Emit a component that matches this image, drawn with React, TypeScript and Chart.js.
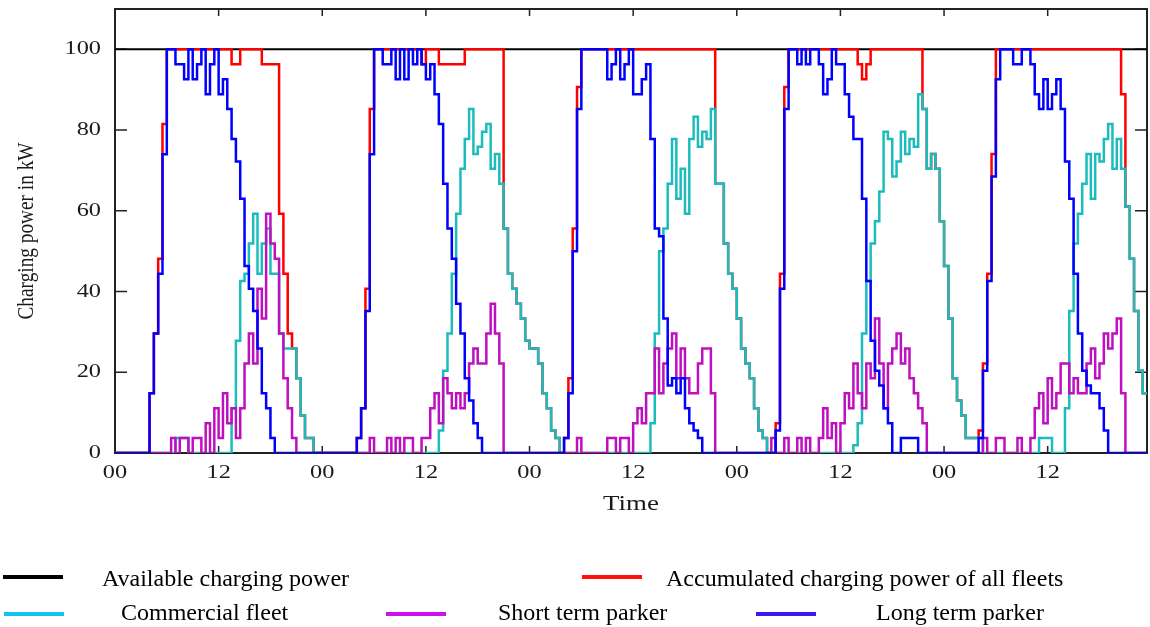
import React, { useEffect, useRef } from "react";
import { Chart, registerables } from "chart.js";

Chart.register(...registerables);

// ---- data (values every 30 minutes, t = 0 .. 119.5 h) ----
const STEP_HOURS = 0.5;
const X_MAX = 119.5;
const X_TICK_STEP = 12;
const X_TICK_LABELS = ["00", "12"];
const Y_MAX = 110;
const Y_TICK_STEP = 20;
const Y_LABEL_MAX = 100;

const AVAILABLE_TIMES = [0, 119.5];
const AVAILABLE_POWER = [100, 100];

const ACCUMULATED = [
  0,0,0,0,0,0,0,0,0,14.8,29.6,48.1, 81.5,100,100,100,100,100,100,100,100,100,100,100,
  100,100,100,100,96.3,96.3,100,100,100,100,100,96.3, 96.3,96.3,96.3,59.3,44.4,29.6,25.9,18.5,9.3,3.7,3.7,0,
  0,0,0,0,0,0,0,0,0,3.7,11.1,40.7, 85.2,100,100,100,100,100,100,100,100,100,100,100,
  96.3,100,100,100,96.3,96.3,96.3,96.3,96.3,96.3,100,100, 100,100,100,100,100,100,100,55.6,44.4,40.7,37,33.3,
  27.8,25.9,25.9,22.2,14.8,11.1,5.6,3.7,0,3.7,18.5,55.6, 90.7,100,100,100,100,100,100,100,100,100,100,100,
  100,100,100,100,100,100,100,100,100,100,100,100, 100,100,100,100,100,100,100,100,66.7,66.7,51.9,44.4,
  40.7,33.3,25.9,22.2,18.5,11.1,5.6,3.7,0,0,7.4,44.4, 90.7,100,100,100,100,100,100,100,100,100,100,100,
  100,100,100,100,100,96.3,92.6,96.3,100,100,100,100, 100,100,100,100,100,100,100,100,85.2,70.4,74.1,70.4,
  57.4,46.3,33.3,18.5,13,9.3,3.7,3.7,3.7,5.6,22.2,44.4, 74.1,100,100,100,100,100,100,100,100,100,100,100,
  100,100,100,100,100,100,100,100,100,100,100,100, 100,100,100,100,100,100,88.9,61.1,48.1,35.2,20.4,14.8,
];

const COMMERCIAL = [
  0,0,0,0,0,0,0,0,0,0,0,0, 0,0,0,3.7,3.7,3.7,0,0,0,0,0,0,
  0,0,0,0,11.1,27.8,42.6,44.4,51.9,59.3,44.4,51.9, 55.6,44.4,44.4,29.6,25.9,25.9,25.9,18.5,9.3,3.7,3.7,0,
  0,0,0,0,0,0,0,0,0,0,0,0, 0,0,0,0,0,0,0,0,0,0,0,0,
  0,0,0,0,5.6,20.4,29.6,44.4,59.3,70.4,77.8,85.2, 74.1,75.9,79.6,81.5,70.4,74.1,66.7,55.6,44.4,40.7,37,33.3,
  27.8,25.9,25.9,22.2,14.8,11.1,5.6,3.7,0,0,0,0, 0,0,0,0,0,0,0,0,0,0,0,0,
  0,0,0,0,0,7.4,29.6,50,55.6,66.7,77.8,63, 70.4,59.3,77.8,83.3,75.9,79.6,77.8,85.2,66.7,66.7,51.9,44.4,
  40.7,33.3,25.9,22.2,18.5,11.1,5.6,3.7,0,0,0,0, 0,0,0,0,0,0,0,0,0,0,0,0,
  0,0,0,0,1.9,7.4,29.6,42.6,51.9,57.4,64.8,79.6, 77.8,68.5,72.2,79.6,74.1,77.8,75.9,88.9,85.2,70.4,74.1,70.4,
  57.4,46.3,33.3,18.5,13,9.3,3.7,3.7,3.7,3.7,0,0, 0,0,0,0,0,0,0,0,0,0,0,3.7,
  3.7,3.7,0,0,0,11.1,35.2,51.9,59.3,66.7,74.1,63, 74.1,72.2,77.8,81.5,70.4,77.8,70.4,61.1,48.1,35.2,20.4,14.8,
];

const SHORT_TERM = [
  0,0,0,0,0,0,0,0,0,0,0,0, 0,0,3.7,0,3.7,3.7,0,3.7,3.7,0,7.4,0,
  11.1,3.7,14.8,7.4,11.1,3.7,11.1,22.2,29.6,22.2,40.7,33.3, 59.3,51.9,48.1,29.6,18.5,11.1,3.7,0,0,0,0,0,
  0,0,0,0,0,0,0,0,0,0,0,0, 3.7,0,0,0,3.7,0,3.7,0,3.7,3.7,0,0,
  3.7,3.7,11.1,14.8,7.4,18.5,14.8,11.1,14.8,11.1,14.8,22.2, 25.9,22.2,22.2,29.6,37,29.6,22.2,0,0,0,0,0,
  0,0,0,0,0,0,0,0,0,0,0,0, 3.7,0,0,0,0,0,0,3.7,3.7,0,3.7,3.7,
  0,7.4,11.1,7.4,14.8,14.8,25.9,14.8,22.2,25.9,29.6,18.5, 25.9,18.5,14.8,14.8,22.2,25.9,25.9,14.8,0,0,0,0,
  0,0,0,0,0,0,0,0,0,3.7,0,0, 3.7,0,0,3.7,0,3.7,0,0,3.7,11.1,3.7,7.4,
  0,7.4,14.8,11.1,22.2,14.8,11.1,22.2,18.5,33.3,22.2,11.1, 22.2,25.9,29.6,22.2,25.9,18.5,14.8,11.1,7.4,0,0,0,
  0,0,0,0,0,0,0,0,0,0,3.7,0, 0,3.7,3.7,0,0,0,3.7,0,0,3.7,11.1,14.8,
  7.4,18.5,11.1,14.8,22.2,22.2,14.8,18.5,14.8,14.8,22.2,25.9, 18.5,22.2,29.6,25.9,29.6,33.3,14.8,0,0,0,0,0,
];

const LONG_TERM = [
  0,0,0,0,0,0,0,0,0,14.8,29.6,44.4, 74,100,100,96.3,96.3,92.6,100,92.6,96.3,100,88.9,96.3,
  100,88.9,92.6,85.2,77.8,72.2,63,46.3,40.7,35.2,25.9,14.8, 11.1,3.7,0,0,0,0,0,0,0,0,0,0,
  0,0,0,0,0,0,0,0,0,3.7,11.1,35.2, 74,100,100,96.3,96.3,100,92.6,100,92.6,100,96.3,100,
  96.3,92.6,96.3,88.9,81.5,66.7,55.6,48.1,37,29.6,18.5,13, 7.4,3.7,0,0,0,0,0,0,0,0,0,0,
  0,0,0,0,0,0,0,0,0,3.7,14.8,50, 85.2,100,100,100,100,100,100,92.6,96.3,100,92.6,96.3,
  100,88.9,88.9,92.6,96.3,77.8,55.6,53.7,33.3,16.7,18.5,14.8, 18.5,11.1,7.4,5.6,3.7,0,0,0,0,0,0,0,
  0,0,0,0,0,0,0,0,0,0,5.6,40.7, 85.2,100,100,96.3,100,96.3,100,100,96.3,88.9,92.6,100,
  96.3,96.3,88.9,83.3,77.8,77.8,63,42.6,27.8,20.4,16.7,11.1, 7.4,0,0,3.7,3.7,3.7,3.7,0,0,0,0,0,
  0,0,0,0,0,0,0,0,0,3.7,20.4,42.6, 68.5,92.6,100,100,100,96.3,96.3,100,100,96.3,88.9,85.2,
  92.6,85.2,88.9,92.6,85.2,72.2,63,44.4,29.6,20.4,16.7,14.8, 14.8,11.1,5.6,0,0,0,0,0,0,0,0,0,
];

const TIMES = LONG_TERM.map((_, i) => i * STEP_HOURS);

const SERIES_NAMES = [
  "Available charging power",
  "Accumulated charging power of all fleets",
  "Commercial fleet",
  "Short term parker",
  "Long term parker",
];
const LINE_COLORS = ["#000000", "#FF0000", "#1CBCBC", "#BF10BF", "#0000FF"];
const LEGEND_COLORS = ["#000000", "#FF1010", "#10C4F0", "#CC10EE", "#3A1AEE"];

const Y_TITLE = "Charging power in kW";
const X_TITLE = "Time";

const W = 1150;
const H = 627;

function drawText(
  ctx: CanvasRenderingContext2D,
  text: string,
  x: number,
  y: number,
  size: number,
  sx: number,
  align: CanvasTextAlign,
  baseline: CanvasTextBaseline,
  rotate = false,
  color = "#1a1a1a"
) {
  ctx.save();
  ctx.translate(x, y);
  if (rotate) ctx.rotate(-Math.PI / 2);
  ctx.scale(sx, 1);
  ctx.font = `${size}px "Liberation Serif", "Times New Roman", serif`;
  ctx.fillStyle = color;
  ctx.textAlign = align;
  ctx.textBaseline = baseline;
  ctx.fillText(text, 0, 0);
  ctx.restore();
}

const framePlugin = {
  id: "frameAndText",
  beforeDatasetsDraw(chart: any) {
    const { ctx, chartArea: a } = chart;
    const xs = chart.scales.x;
    const ys = chart.scales.y;
    ctx.save();
    ctx.strokeStyle = "#222";
    ctx.lineWidth = 2;
    ctx.strokeRect(a.left, a.top, a.right - a.left, a.bottom - a.top);
    ctx.lineWidth = 1.5;
    ctx.beginPath();
    xs.ticks.forEach((t: any) => {
      const px = xs.getPixelForValue(t.value);
      if (px <= a.left + 1 || px >= a.right - 1) return;
      ctx.moveTo(px, a.bottom);
      ctx.lineTo(px, a.bottom - 7);
      ctx.moveTo(px, a.top);
      ctx.lineTo(px, a.top + 7);
    });
    ys.ticks.forEach((t: any) => {
      const py = ys.getPixelForValue(t.value);
      if (py >= a.bottom - 1) return;
      ctx.moveTo(a.left, py);
      ctx.lineTo(a.left + 12, py);
      ctx.moveTo(a.right, py);
      ctx.lineTo(a.right - 12, py);
    });
    ctx.stroke();
    ctx.restore();
  },
  afterDraw(chart: any) {
    const { ctx, chartArea: a } = chart;
    const xs = chart.scales.x;
    const ys = chart.scales.y;
    ys.ticks.forEach((t: any) => {
      drawText(ctx, String(t.value), a.left - 14, ys.getPixelForValue(t.value), 19, 1.28, "right", "middle");
    });
    xs.ticks.forEach((t: any) => {
      const lbl = X_TICK_LABELS[Math.round(t.value / X_TICK_STEP) % 2];
      drawText(ctx, lbl, xs.getPixelForValue(t.value), a.bottom + 25, 19, 1.28, "center", "alphabetic");
    });
    drawText(ctx, X_TITLE, (a.left + a.right) / 2, a.bottom + 57, 21, 1.28, "center", "alphabetic");
    ctx.save();
    ctx.font = `24px "Liberation Serif", "Times New Roman", serif`;
    const natural = ctx.measureText(Y_TITLE).width;
    ctx.restore();
    drawText(ctx, Y_TITLE, 33, (a.top + a.bottom) / 2, 24, 177 / natural, "center", "alphabetic", true);

    const items = [
      { i: 0, lx: 3, tx: 102, y: 577, by: 586 },
      { i: 1, lx: 582, tx: 666, y: 577, by: 586 },
      { i: 2, lx: 4, tx: 121, y: 614, by: 620 },
      { i: 3, lx: 386, tx: 498, y: 614, by: 620 },
      { i: 4, lx: 756, tx: 876, y: 614, by: 620 },
    ];
    items.forEach((it) => {
      ctx.save();
      ctx.strokeStyle = LEGEND_COLORS[it.i];
      ctx.lineWidth = 4;
      ctx.beginPath();
      ctx.moveTo(it.lx, it.y);
      ctx.lineTo(it.lx + 60, it.y);
      ctx.stroke();
      ctx.restore();
      drawText(ctx, SERIES_NAMES[it.i], it.tx, it.by, 24, 1, "left", "alphabetic", false, "#000");
    });
  },
};

function toPoints(times: number[], values: number[]) {
  return values.map((v, i) => ({ x: times[i], y: v }));
}

export default function App() {
  const ref = useRef<HTMLCanvasElement | null>(null);

  useEffect(() => {
    if (!ref.current) return;
    const seriesValues = [ACCUMULATED, COMMERCIAL, SHORT_TERM, LONG_TERM];
    const datasets: any[] = [
      {
        label: SERIES_NAMES[0],
        data: toPoints(AVAILABLE_TIMES, AVAILABLE_POWER),
        borderColor: LINE_COLORS[0],
        borderWidth: 2,
        pointRadius: 0,
        order: 4,
      },
    ];
    seriesValues.forEach((vals, k) => {
      datasets.push({
        label: SERIES_NAMES[k + 1],
        data: toPoints(TIMES, vals),
        borderColor: LINE_COLORS[k + 1],
        borderWidth: 2.5,
        pointRadius: 0,
        stepped: "after",
        order: 3 - k,
      });
    });

    const chart = new Chart(ref.current, {
      type: "line",
      data: { datasets },
      options: {
        responsive: false,
        animation: false,
        events: [],
        layout: { padding: { top: 9, right: 3, left: 0, bottom: 0 } },
        plugins: { legend: { display: false }, tooltip: { enabled: false } },
        scales: {
          x: {
            type: "linear",
            min: 0,
            max: X_MAX,
            ticks: { stepSize: X_TICK_STEP, display: false },
            grid: { display: false },
            border: { display: false },
            afterBuildTicks: (s: any) => {
              s.ticks = s.ticks.filter((t: any) => t.value % X_TICK_STEP === 0);
            },
            afterFit: (s: any) => {
              s.height = H - 453;
            },
          },
          y: {
            type: "linear",
            min: 0,
            max: Y_MAX,
            ticks: { stepSize: Y_TICK_STEP, display: false },
            grid: { display: false },
            border: { display: false },
            afterBuildTicks: (s: any) => {
              s.ticks = s.ticks.filter((t: any) => t.value <= Y_LABEL_MAX && t.value % Y_TICK_STEP === 0);
            },
            afterFit: (s: any) => {
              s.width = 115;
            },
          },
        },
      },
      plugins: [framePlugin],
    });
    return () => chart.destroy();
  }, []);

  return (
    <div style={{ position: "absolute", left: 0, top: 0, width: W, height: H, background: "#fff" }}>
      <canvas ref={ref} width={W} height={H} style={{ display: "block", width: W, height: H }} />
    </div>
  );
}
